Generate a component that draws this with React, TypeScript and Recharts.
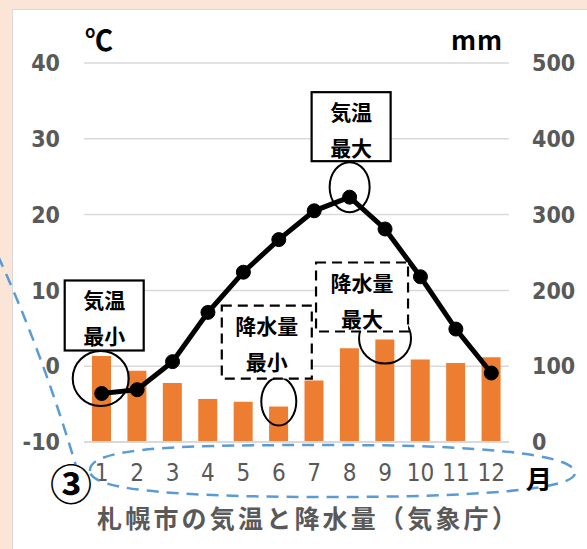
import React from "react";
import {
  ComposedChart,
  Bar,
  Line,
  XAxis,
  YAxis,
  CartesianGrid,
  ReferenceDot,
} from "recharts";

const months = ["1", "2", "3", "4", "5", "6", "7", "8", "9", "10", "11", "12"];
const temperature = [-3.6, -3.1, 0.6, 7.1, 12.4, 16.7, 20.5, 22.3, 18.1, 11.8, 4.9, -0.9];
const precipitation = [113.6, 94.0, 77.8, 56.8, 53.1, 46.8, 81.0, 123.8, 135.2, 108.7, 104.1, 111.7];
const tempTicks = [-10, 0, 10, 20, 30, 40];
const rainTicks = [0, 100, 200, 300, 400, 500];

const data = months.map((m, i) => ({
  month: m,
  temp: temperature[i],
  rain: precipitation[i],
}));

const JP = '"Noto Sans CJK JP", sans-serif';
const NUM = '"DejaVu Sans Condensed", "DejaVu Sans", sans-serif';
const GRAY = "#595959";

// callout: ellipse round the point and a labelled box above it
function callout(opts: {
  ex: number; ey: number; rx: number; ry: number;
  bx: number; by: number; bw: number; bh: number;
  lines: string[]; dashed?: boolean;
}) {
  return (props: any) => {
    const { cx, cy } = props;
    if (cx == null || cy == null) return <g />;
    const { ex, ey, rx, ry, bx, by, bw, bh, lines, dashed } = opts;
    const left = cx + bx;
    const top = cy + by;
    return (
      <g>
        <ellipse cx={cx + ex} cy={cy + ey} rx={rx} ry={ry} fill="none" stroke="#000" strokeWidth={2} />
        <rect
          x={left}
          y={top}
          width={bw}
          height={bh}
          fill="#fff"
          stroke="#000"
          strokeWidth={2.2}
          strokeDasharray={dashed ? "10 6" : undefined}
        />
        {lines.map((t, i) => (
          <text
            key={i}
            x={left + bw / 2}
            y={top + (i === 0 ? 19 : 55)}
            textAnchor="middle"
            dominantBaseline="central"
            fontFamily={JP}
            fontWeight="bold"
            fontSize={21}
            fill="#000"
          >
            {t}
          </text>
        ))}
      </g>
    );
  };
}

const XTick = (props: any) => {
  const { x, y, payload } = props;
  return (
    <text x={x} y={y + 23} textAnchor="middle" dominantBaseline="central" fontFamily={NUM} fontSize={24} fill={GRAY}>
      {payload.value}
    </text>
  );
};

export default function App() {
  return (
    <div style={{ position: "absolute", left: 0, top: 0, width: 587, height: 549, background: "#FBE5D6", overflow: "hidden" }}>
      <div
        style={{
          position: "absolute",
          left: 12,
          top: 9,
          width: 587 - 12,
          height: 549 - 9,
          background: "#fff",
          borderLeft: "1.5px solid #D9D9D9",
          borderTop: "1.5px solid #D9D9D9",
        }}
      />
      <div style={{ position: "absolute", left: 0, top: 0 }}>
        <ComposedChart
          width={587}
          height={549}
          data={data}
          margin={{ top: 63, right: 28, bottom: 77, left: 34 }}
        >
          <CartesianGrid vertical={false} stroke="#D9D9D9" strokeWidth={1.5} yAxisId="t" />
          <XAxis
            dataKey="month"
            height={30}
            interval={0}
            tickLine={false}
            axisLine={{ stroke: "#D9D9D9", strokeWidth: 2 }}
            tick={<XTick />}
          />
          <YAxis
            yAxisId="t"
            width={50}
            domain={[-10, 40]}
            ticks={tempTicks}
            axisLine={false}
            tickLine={false}
            tickSize={0}
            tickMargin={24}
            tick={{ fill: GRAY, fontSize: 23, fontWeight: "bold", fontFamily: NUM }}
          />
          <YAxis
            yAxisId="p"
            orientation="right"
            width={50}
            domain={[0, 500]}
            ticks={rainTicks}
            axisLine={false}
            tickLine={false}
            tickSize={0}
            tickMargin={23}
            tick={{ fill: GRAY, fontSize: 23, fontWeight: "bold", fontFamily: NUM, textAnchor: "start" }}
          />
          <Bar yAxisId="p" dataKey="rain" fill="#ED7D31" barSize={19} isAnimationActive={false} />
          <Line
            yAxisId="t"
            dataKey="temp"
            type="linear"
            stroke="#000"
            strokeWidth={5}
            dot={{ r: 7, fill: "#000", stroke: "#000", strokeWidth: 1 }}
            isAnimationActive={false}
          />
          <ReferenceDot
            yAxisId="t"
            x={months[0]}
            y={temperature[0]}
            shape={callout({ ex: -1, ey: -15, rx: 28, ry: 27.5, bx: -37, by: -113, bw: 79, bh: 70, lines: ["気温", "最小"] })}
          />
          <ReferenceDot
            yAxisId="t"
            x={months[7]}
            y={temperature[7]}
            shape={callout({ ex: 0, ey: -10, rx: 20, ry: 25, bx: -38, by: -105, bw: 79, bh: 69, lines: ["気温", "最大"] })}
          />
          <ReferenceDot
            yAxisId="p"
            x={months[5]}
            y={precipitation[5]}
            shape={callout({ ex: 0, ey: -5, rx: 17.5, ry: 24, bx: -57, by: -101, bw: 90, bh: 73, lines: ["降水量", "最小"], dashed: true })}
          />
          <ReferenceDot
            yAxisId="p"
            x={months[8]}
            y={precipitation[8]}
            shape={callout({ ex: 0, ey: -1, rx: 26, ry: 25, bx: -69, by: -77, bw: 92, bh: 69, lines: ["降水量", "最大"], dashed: true })}
          />
        </ComposedChart>
      </div>
      <svg width={587} height={549} style={{ position: "absolute", left: 0, top: 0, pointerEvents: "none" }}>
        <text x={85} y={51} fontFamily={JP} fontSize={28} fontWeight="bold" fill="#000">℃</text>
        <text x={451} y={50} fontFamily={JP} fontSize={26} fontWeight="bold" fill="#000" letterSpacing={1}>mm</text>
        <path
          d="M 90 471 C 88 446, 190 445, 333 445 C 470 445, 575 453, 575 473 C 575 490, 470 497, 333 497 C 195 497, 90 492, 90 471 Z"
          fill="none"
          stroke="#5B9BD5"
          strokeWidth={2.5}
          strokeDasharray="12 8"
        />
        <path d="M -2 256 Q 42 352 76 466" fill="none" stroke="#5B9BD5" strokeWidth={2.5} strokeDasharray="12 8" />
        <text x={71} y={481} textAnchor="middle" dominantBaseline="central" fontFamily={JP} fontSize={42} fontWeight="bold" fill="#000">③</text>
        <text x={539} y={477} textAnchor="middle" dominantBaseline="central" fontFamily={JP} fontSize={26} fontWeight="bold" fill="#000">月</text>
        <text x={97} y={517} dominantBaseline="central" fontFamily={JP} fontSize={25} fontWeight="bold" fill={GRAY} letterSpacing={3.2}>
          札幌市の気温と降水量（気象庁）
        </text>
      </svg>
    </div>
  );
}
